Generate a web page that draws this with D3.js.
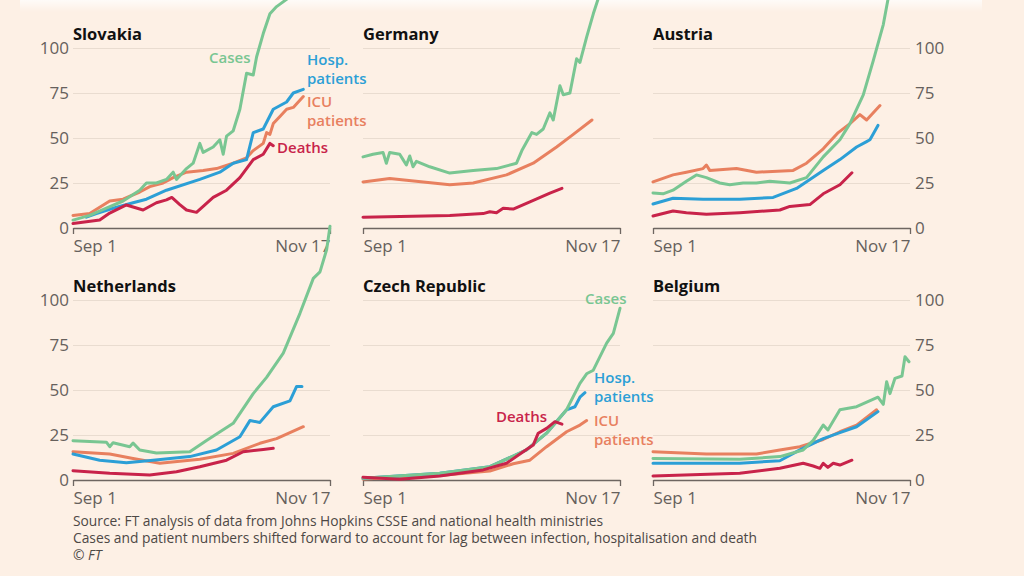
<!DOCTYPE html>
<html><head><meta charset="utf-8">
<script src="https://cdn.jsdelivr.net/npm/d3@7"></script>
<style>
html,body{margin:0;padding:0;background:#FDF0E5;}
svg{display:block;}
</style></head>
<body>
<svg id="c" width="1024" height="576"></svg>
<script>
// ---------- data ----------
const countries = ["Slovakia","Germany","Austria","Netherlands","Czech Republic","Belgium"];
const xTickLabels = ["Sep 1","Nov 17"];
const xTickDays = [0, 77];
const yTicks = [0, 25, 50, 75, 100];
const seriesNames = ["ICU patients","Hosp. patients","Cases","Deaths"];
const seriesColors = ["#E8805F","#2C9FD6","#79C692","#C8234A"];

// [day since Sep 1, index value]
const slovakiaCases = [[0,4.4],[5,7],[10,11],[15,15],[20,21],[22,25],[25,25],[28,27],[30,31],[31,27],[34,33],[36,36],[38,47],[39,42],[42,45],[44,49],[45,41],[46,51],[48,54],[50,66],[52,86],[54,85],[55,95],[57,108],[59,119],[61,123],[64,127],[67,135]];
const slovakiaHosp = [[4,6],[7,8],[12,11],[18,14],[22,16],[28,21],[38,27],[44,31],[48,36],[52,38],[54,53],[57,55],[60,66],[64,70],[66,75],[69,77]];
const slovakiaICU = [[0,7],[5,8],[11,15],[15,16],[20,20],[23,23],[27,25],[30,28],[34,31],[39,32],[43,33],[48,36],[52,39],[54,43],[57,47],[58,53],[59,52],[60,58],[62,62],[64,66],[66,67],[69,73]];
const slovakiaDeaths = [[0,2.5],[4,3.5],[8,4.4],[11,8.3],[16,12.8],[21,10],[25,14],[28,15.6],[29.6,17],[32,13],[34,10],[37,8.7],[42,17],[46,21],[50,28],[54,38],[57,41],[59,47],[60,45.7]];

const germanyCases = [[0,39.5],[3,41],[6,42],[7,36],[8,42],[11,41],[12,38],[13,35],[14,40],[15,34],[16,37],[20,34],[26,30.5],[33,32],[40,33],[46,36],[47.6,43],[50.6,53],[52,52],[54,55],[56,64],[57,60],[59,79],[60,74],[62,75],[64,94],[65,92],[67,106],[69,119],[70.4,127],[72,135]];
const germanyHosp = [];
const germanyICU = [[0,25.6],[8,27.5],[26,24],[33,25],[43,29.5],[51,36],[58,45],[63,52],[68.6,60]];
const germanyDeaths = [[0,6],[26,7],[36,8],[38,9],[40,8.5],[42,11],[45,10.5],[50,14.5],[56,19.4],[59.6,22]];

const austriaCases = [[0,19.5],[3,19],[6,21],[10,26],[13,29.5],[16,28],[20,25],[23,24],[27,25],[31,25],[35,26],[41,25],[46,28],[51,39.5],[56,49],[59,58],[63,74],[66,93],[69,113],[70.4,127],[72,135]];
const austriaHosp = [[0,13.3],[6,16.5],[15,16],[26,16],[36,17],[43,22],[51,32],[56,38],[61,45],[64,48],[65,49],[67.4,57]];
const austriaICU = [[0,25.6],[6,29.5],[10,31],[15,33],[16,35],[17,32],[25,33],[31,31],[42,32],[46,36],[51,44],[55.5,53],[59,58],[62,63],[64,60],[68,68]];
const austriaDeaths = [[0,6.7],[6,9.4],[10,8.5],[16,7.6],[26,8.5],[38,10],[41,12],[47,13],[51,19],[56,24],[59.6,30.7]];

const netherlandsCases = [[0,21.8],[10,21],[11,18.5],[12,20.7],[17,18.5],[18,20.5],[20,16.7],[25,15],[35,15.7],[40,22],[48,31.5],[54,48],[58,57],[63,70.5],[68,92.6],[72,112],[74,115.6],[76,128],[77,141]];
const netherlandsHosp = [[0,14.4],[8,11],[16,9.6],[24,11],[35,13],[43,16.7],[50,24],[53,33],[56,32],[60,40.7],[65,44],[67,52],[68.6,52]];
const netherlandsICU = [[0,15.7],[11,14.4],[18,12],[26,9.3],[38,11.5],[48,14.8],[56,20.4],[61,23],[69,29.6]];
const netherlandsDeaths = [[0,5.2],[11,3.7],[23,2.8],[31,4.6],[38,7.4],[46,11],[51,15.7],[57,17],[60,17.6]];

const czechCases = [[0,1],[23,3.7],[38,7.4],[45,13.3],[49,16.7],[55,26],[61,39],[65,53.7],[67,59],[69,61],[73,76],[75,81.5],[77,95.4]];
const czechHosp = [[0,1],[23,3.7],[38,7.4],[45,13.3],[49,16.7],[55,26],[61,39],[63.5,40.7],[65,46],[66.5,48.5]];
const czechICU = [[0,0.5],[23,2.5],[38,5],[45,9],[50,11],[55,18.5],[61,26.8],[65,30.5],[67,33]];
const czechDeaths = [[0,1.5],[11,0.4],[23,2.2],[36,5.6],[43,9.3],[48,15.7],[51,19.4],[52.5,26],[55,28.7],[57.5,32.4],[59.6,31]];

const belgiumCases = [[0,12],[26,11.5],[38,13],[45,16.7],[48,22],[51,30.5],[52.4,27.8],[56,39],[61,40.7],[67.4,46],[69,42],[70,54.6],[71,48],[72.5,56.5],[74.6,57.8],[75.5,68.5],[76.7,65.7]];
const belgiumHosp = [[0,9.3],[26,9.3],[38,10.7],[44,16.7],[51,23],[56,26.3],[61,29.6],[67.4,38]];
const belgiumICU = [[0,15.7],[16,14.4],[31,14.4],[38,16.7],[44,18.5],[51,22.5],[56,26.8],[61,30.5],[67,39]];
const belgiumDeaths = [[0,2.2],[26,3.7],[38,6.5],[45,9.3],[48,7.8],[50,6.5],[51,9.3],[52.4,7],[54,9.3],[56,8.3],[59.6,11]];

const footnotes = [
  "Source: FT analysis of data from Johns Hopkins CSSE and national health ministries",
  "Cases and patient numbers shifted forward to account for lag between infection, hospitalisation and death",
  "© FT"
];

// ---------- layout ----------
const panelData = [
  [slovakiaICU, slovakiaHosp, slovakiaCases, slovakiaDeaths],
  [germanyICU, germanyHosp, germanyCases, germanyDeaths],
  [austriaICU, austriaHosp, austriaCases, austriaDeaths],
  [netherlandsICU, netherlandsHosp, netherlandsCases, netherlandsDeaths],
  [czechICU, czechHosp, czechCases, czechDeaths],
  [belgiumICU, belgiumHosp, belgiumCases, belgiumDeaths]
];
const colX = [73, 363, 653];
const rowY = [228, 480];
const pw = 257, ph = 180;
const font = "'Open Sans', sans-serif";

const svg = d3.select("#c");
svg.append("rect").attr("width",1024).attr("height",576).attr("fill","#FDF0E5");
const grad = svg.append("defs").append("linearGradient").attr("id","topfade").attr("x1",0).attr("x2",0).attr("y1",0).attr("y2",1);
grad.append("stop").attr("offset",0).attr("stop-color","#ffffff").attr("stop-opacity",0.75);
grad.append("stop").attr("offset",1).attr("stop-color","#ffffff").attr("stop-opacity",0);
svg.append("rect").attr("x",20).attr("y",0).attr("width",962).attr("height",12).attr("fill","url(#topfade)");

// label annotations per panel
const annotations = {
  0: [
    {lines:["Cases"], x:209, y:63, c:2},
    {lines:["Hosp.","patients"], x:307, y:65, c:1},
    {lines:["ICU","patients"], x:307, y:107, c:0},
    {lines:["Deaths"], x:277, y:153, c:3}
  ],
  4: [
    {lines:["Cases"], x:585, y:304, c:2},
    {lines:["Hosp.","patients"], x:594, y:383, c:1},
    {lines:["Deaths"], x:547, y:422, c:3, anchor:"end"},
    {lines:["ICU","patients"], x:594, y:426, c:0}
  ]
};

countries.forEach((name, i) => {
  const col = i % 3, row = Math.floor(i / 3);
  const x0 = colX[col], y0 = rowY[row];
  const x = d3.scaleLinear().domain([0, 77]).range([x0, x0 + pw]);
  const y = d3.scaleLinear().domain([0, 100]).range([y0, y0 - ph]);
  const g = svg.append("g");

  // gridlines
  const grid = g.append("g").attr("transform", `translate(${x0},0)`)
    .call(d3.axisLeft(y).tickValues(yTicks.slice(1)).tickSize(-pw).tickFormat(""));
  grid.select(".domain").remove();
  grid.selectAll("line").attr("stroke", "#E9DCD0").attr("stroke-width", 1.2);

  // y labels
  if (col === 0 || col === 2) {
    const lx = col === 0 ? x0 - 4 : x0 + pw + 5;
    g.selectAll(".yl").data(yTicks).enter().append("text")
      .attr("x", lx).attr("y", d => y(d)).attr("dy", "0.36em")
      .attr("text-anchor", col === 0 ? "end" : "start")
      .attr("font-family", font).attr("font-size", 17).attr("fill", "#66605C")
      .text(d => d);
  }

  // x axis
  const ax = g.append("g").attr("transform", `translate(0,${y0})`)
    .call(d3.axisBottom(x).tickValues(xTickDays).tickSize(6).tickSizeOuter(0)
      .tickFormat((d, k) => xTickLabels[k]));
  ax.select(".domain").attr("stroke", "#6E6661").attr("stroke-width", 1.3);
  ax.selectAll(".tick line").attr("stroke", "#6E6661").attr("stroke-width", 1.3);
  ax.selectAll(".tick text").attr("font-family", font).attr("font-size", 17)
    .attr("fill", "#66605C").attr("y", 9).attr("dy", "0.9em")
    .attr("text-anchor", (d, k) => k === 0 ? "start" : "end");

  // title
  g.append("text").attr("x", x0).attr("y", y0 - ph - 8)
    .attr("font-family", font).attr("font-weight", 700).attr("font-size", 16.5)
    .attr("fill", "#111").text(name);

  // lines
  const line = d3.line().defined(d => d[1] != null)
    .x(d => x(d[0])).y(d => y(d[1])).curve(d3.curveLinear);
  panelData[i].forEach((s, k) => {
    if (!s.length) return;
    g.append("path").datum(s).attr("d", line).attr("fill", "none")
      .attr("stroke", seriesColors[k]).attr("stroke-width", 3)
      .attr("stroke-linejoin", "round").attr("stroke-linecap", "round");
  });

  // annotations
  (annotations[i] || []).forEach(a => {
    const t = g.append("text").attr("x", a.x).attr("y", a.y)
      .attr("font-family", font).attr("font-weight", 600).attr("font-size", 15)
      .attr("fill", seriesColors[a.c]).attr("text-anchor", a.anchor || "start");
    a.lines.forEach((l, j) => t.append("tspan").attr("x", a.x).attr("dy", j ? 19 : 0).text(l));
  });
});

// footnotes
svg.selectAll(".fn").data(footnotes).enter().append("text")
  .attr("x", 73).attr("y", (d, k) => 526 + k * 17)
  .attr("font-family", font).attr("font-size", 13.8).attr("fill", "#4D4845")
  .attr("font-style", (d, k) => k === 2 ? "italic" : "normal")
  .text(d => d);
</script>
</body></html>
